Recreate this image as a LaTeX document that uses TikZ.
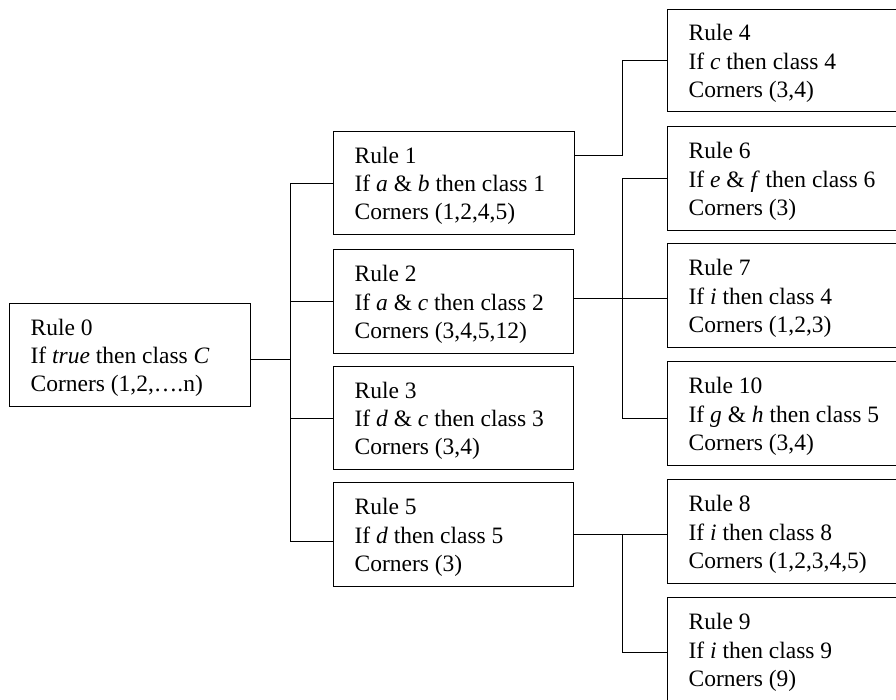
\documentclass[tikz,border=0pt]{standalone}
\usepackage{fontspec}
\setmainfont{Liberation Serif}
\usepackage{tikz}
\usetikzlibrary{positioning}
\newcommand{\rtext}[4]{\rule{0pt}{22pt}Rule #1\\If #2 then class #3\\Corners (#4)}

\begin{document}
\begin{tikzpicture}[x=1pt,y=-1pt,
		rulebox/.style={draw, line width=1.2pt, rectangle, anchor=north west,
			minimum height=104pt, text width=#1, inner xsep=21pt, align=flush left,
			font=\fontsize{23.5pt}{28.3pt}\selectfont},
		rulebox/.default=198pt,
		link/.style={line width=1pt}]
		\useasboundingbox (0,0) rectangle (896,700);
		\clip (0,0) rectangle (896,700);
		% root
		\node[rulebox=199pt, minimum height=103pt] (r0) at (9,303) {\rtext{0}{\textit{true}}{\textit{C}}{1,2,….n}};
		% first level
		\node[rulebox=199pt, minimum height=103pt] (r1) at (333,131) {\rtext{1}{\textit{a} \& \textit{b}}{1}{1,2,4,5}};
		\node[rulebox] (r2) at (333,249) {\rtext{2}{\textit{a} \& \textit{c}}{2}{3,4,5,12}};
		\node[rulebox, minimum height=103pt] (r3) at (333,366) {\rtext{3}{\textit{d} \& \textit{c}}{3}{3,4}};
		\node[rulebox] (r5) at (333,482) {\rtext{5}{\textit{d}}{5}{3}};
		% second level
		\node[rulebox, minimum height=102pt] (r4) at (667,9) {\rtext{4}{\textit{c}}{4}{3,4}};
		\node[rulebox] (r6) at (667,126) {\rtext{6}{\textit{e} \& \textit{f}}{6}{3}};
		\node[rulebox] (r7) at (667,243) {\rtext{7}{\textit{i}}{4}{1,2,3}};
		\node[rulebox] (r10) at (667,361) {\rtext{10}{\textit{g} \& \textit{h}}{5}{3,4}};
		\node[rulebox] (r8) at (667,479) {\rtext{8}{\textit{i}}{8}{1,2,3,4,5}};
		\node[rulebox] (r9) at (667,597) {\rtext{9}{\textit{i}}{9}{9}};
		% trunks and connection points
		\coordinate (tl) at (290,0);
		\coordinate (tr) at (622,0);
		\coordinate (r0o) at ([yshift=-4.5pt]r0.east);
		\coordinate (r5i) at ([yshift=-7pt]r5.west);
		\coordinate (r1o) at ([yshift=27.5pt]r1.east);
		\coordinate (r2o) at ([yshift=3pt]r2.east);
		\coordinate (r10i) at ([yshift=-5pt]r10.west);
		\coordinate (r9i) at ([yshift=-3pt]r9.west);
		% links
		\draw[link] (r0o) -- (r0o -| tl);
		\draw[link] (r1.west -| tl) -- (r5i -| tl);
		\foreach \nd in {r1,r2,r3}
			\draw[link] (\nd.west) -- (\nd.west -| tl);
		\draw[link] (r5i) -- (r5i -| tl);
		\draw[link] (r1o) -| (r4.west -| tr) -- (r4.west);
		\draw[link] (r6.west) -| (r10i -| tr) -- (r10i);
		\draw[link] (r2o) -- (r2o -| r7.west);
		\draw[link] (r5.east) -- (r5.east -| r8.west);
		\draw[link] (r5.east -| tr) |- (r9i);
	\end{tikzpicture}
\end{document}
